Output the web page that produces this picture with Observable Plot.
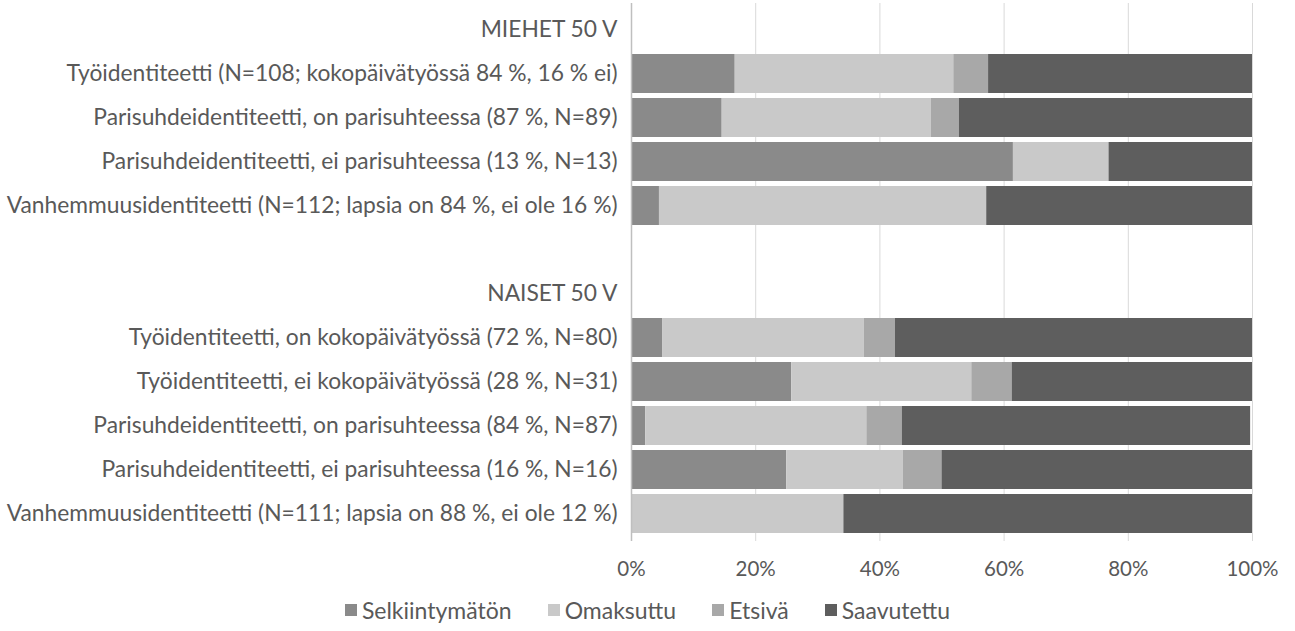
<!DOCTYPE html>
<html>
<head>
<meta charset="utf-8">
<script src="https://cdn.jsdelivr.net/npm/d3@7"></script>
<script src="https://cdn.jsdelivr.net/npm/@observablehq/plot@0.6"></script>
<style>
  html, body { margin: 0; padding: 0; background: #fff; }
  #chart { width: 1295px; font-family: Lato, "Noto Sans", sans-serif; color: #595959; }
  .legend { display: flex; justify-content: center; gap: 36px; font-size: 23px; color: #595959; margin-top: 6px; padding-left: 0px; }
  .legend span.item { display: flex; align-items: center; }
  .legend span.sw { display: inline-block; width: 12px; height: 12px; margin-right: 5px; }
  svg g[aria-label="x-axis tick label"] text { font-size: 20.5px; }
</style>
</head>
<body>
<div id="chart"></div>
<script>
// Row keys (top to bottom), including group headers and a spacer row; prefix marks the group
const axisRows = [
  "M|MIEHET 50 V",
  "M|Työidentiteetti (N=108; kokopäivätyössä 84 %, 16 % ei)",
  "M|Parisuhdeidentiteetti, on parisuhteessa (87 %, N=89)",
  "M|Parisuhdeidentiteetti, ei parisuhteessa (13 %, N=13)",
  "M|Vanhemmuusidentiteetti (N=112; lapsia on 84 %, ei ole 16 %)",
  "X|",
  "N|NAISET 50 V",
  "N|Työidentiteetti, on kokopäivätyössä (72 %, N=80)",
  "N|Työidentiteetti, ei kokopäivätyössä (28 %, N=31)",
  "N|Parisuhdeidentiteetti, on parisuhteessa (84 %, N=87)",
  "N|Parisuhdeidentiteetti, ei parisuhteessa (16 %, N=16)",
  "N|Vanhemmuusidentiteetti (N=111; lapsia on 88 %, ei ole 12 %)"
];
// Data rows
const categories = [
  "M|Työidentiteetti (N=108; kokopäivätyössä 84 %, 16 % ei)",
  "M|Parisuhdeidentiteetti, on parisuhteessa (87 %, N=89)",
  "M|Parisuhdeidentiteetti, ei parisuhteessa (13 %, N=13)",
  "M|Vanhemmuusidentiteetti (N=112; lapsia on 84 %, ei ole 16 %)",
  "N|Työidentiteetti, on kokopäivätyössä (72 %, N=80)",
  "N|Työidentiteetti, ei kokopäivätyössä (28 %, N=31)",
  "N|Parisuhdeidentiteetti, on parisuhteessa (84 %, N=87)",
  "N|Parisuhdeidentiteetti, ei parisuhteessa (16 %, N=16)",
  "N|Vanhemmuusidentiteetti (N=111; lapsia on 88 %, ei ole 12 %)"
];
const seriesNames = ["Selkiintymätön", "Omaksuttu", "Etsivä", "Saavutettu"];
const selkiintymaton = [16.7, 14.6, 61.5, 4.5, 5.0, 25.8, 2.3, 25.0, 0];
const omaksuttu      = [35.2, 33.7, 15.4, 52.7, 32.5, 29.0, 35.6, 18.75, 34.2];
const etsiva         = [5.6, 4.5, 0, 0, 5.0, 6.5, 5.7, 6.25, 0];
const saavutettu     = [42.5, 47.2, 23.1, 42.8, 57.5, 38.7, 56.1, 50.0, 65.8];
const seriesColors = ["#8a8a8a", "#c9c9c9", "#a8a8a8", "#5e5e5e"];
const xTicks = [0, 20, 40, 60, 80, 100];

const seriesValues = [selkiintymaton, omaksuttu, etsiva, saavutettu];
const table = [];
categories.forEach((c, i) => {
  seriesNames.forEach((s, j) => {
    table.push({category: c, series: s, value: seriesValues[j][i]});
  });
});

const plot = Plot.plot({
  width: 1295,
  height: 590,
  marginLeft: 631,
  marginRight: 43,
  marginTop: 3,
  marginBottom: 49,
  style: {fontFamily: "Lato, 'Noto Sans', sans-serif", fontSize: "22.8px", color: "#595959", background: "#fff"},
  x: {domain: [0, 100], ticks: xTicks, tickFormat: d => d + "%", tickSize: 0, tickPadding: 20, label: null},
  y: {domain: axisRows, padding: 0.11, tickSize: 0, tickPadding: 14, label: null, tickFormat: d => d.slice(2)},
  color: {domain: seriesNames, range: seriesColors},
  marks: [
    Plot.ruleX(xTicks.filter(d => d > 0), {stroke: "#d9d9d9", strokeWidth: 1}),
    Plot.barX(table, {x: "value", y: "category", fill: "series", order: seriesNames}),
    Plot.ruleX([0], {stroke: "#bfbfbf", strokeWidth: 1.5})
  ]
});
document.getElementById("chart").appendChild(plot);

const legend = document.createElement("div");
legend.className = "legend";
seriesNames.forEach((s, j) => {
  const item = document.createElement("span");
  item.className = "item";
  const sw = document.createElement("span");
  sw.className = "sw";
  sw.style.background = seriesColors[j];
  item.appendChild(sw);
  item.appendChild(document.createTextNode(s));
  legend.appendChild(item);
});
document.getElementById("chart").appendChild(legend);
</script>
</body>
</html>
